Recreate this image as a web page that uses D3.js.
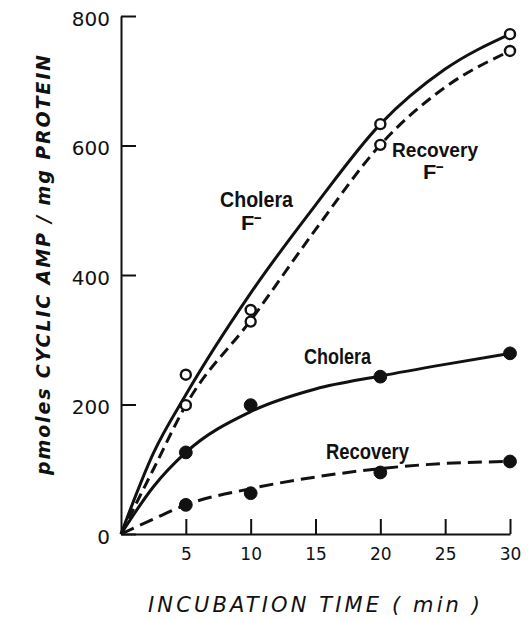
<!DOCTYPE html>
<html>
<head>
<meta charset="utf-8">
<script src="https://cdn.jsdelivr.net/npm/d3@7/dist/d3.min.js"></script>
<style>
  html, body { margin: 0; padding: 0; background: #fff; }
  svg { display: block; }
</style>
</head>
<body>
<svg id="chart" width="531" height="620"></svg>
<script>
// Incubation times at which samples were taken (min)
const sampleTimes = [5, 10, 20, 30];

// Measured cyclic AMP (pmoles / mg protein)
const choleraFluoride  = [246, 346, 633, 772];
const recoveryFluoride = [199, 328, 601, 746];
const cholera          = [126, 199, 243, 279];
const recovery         = [45, 63, 95, 112];

// Hand-fitted curves, given as knots along the time axis
const fitTimes         = [0, 2.5, 5, 10, 15, 20, 25, 30];
const choleraFluorideFit  = [0, 125, 215, 372, 508, 633, 718, 772];
const recoveryFluorideFit = [0, 100, 199, 330, 470, 601, 690, 746];
const choleraFit          = [0, 73, 126, 189, 224, 244, 262, 279];
const recoveryFit         = [0, 23, 45, 70, 88, 101, 109, 112];

// Axis ticks
const xTicks = [5, 10, 15, 20, 25, 30];
const yTicks = [0, 200, 400, 600, 800];

const xTitle = "INCUBATION TIME ( min )";
const yTitle = "pmoles CYCLIC AMP / mg PROTEIN";

const svg = d3.select("#chart");

const x = d3.scaleLinear().domain([0, 30]).range([121, 510]);
const y = d3.scaleLinear().domain([0, 800]).range([534, 16]);

const ink = "#111";

// Axes: ticks point inward, into the plotting area
const yAxis = d3.axisLeft(y)
  .tickValues(yTicks)
  .tickSizeInner(-15)
  .tickSizeOuter(0)
  .tickPadding(11)
  .tickFormat(d3.format("d"));

const xAxis = d3.axisBottom(x)
  .tickValues(xTicks)
  .tickSizeInner(-15)
  .tickSizeOuter(0)
  .tickPadding(14)
  .tickFormat(d3.format("d"));

const gy = svg.append("g")
  .attr("transform", `translate(${x(0)},0)`)
  .call(yAxis);
gy.selectAll("text")
  .attr("dy", null)
  .attr("y", 9)
  .style("font-family", "'DejaVu Sans', sans-serif")
  .style("font-size", "20px")
  .attr("fill", ink);

const gx = svg.append("g")
  .attr("transform", `translate(0,${y(0)})`)
  .call(xAxis);
gx.selectAll("text")
  .style("font-family", "'DejaVu Sans', sans-serif")
  .style("font-size", "17px")
  .attr("fill", ink);

svg.selectAll(".domain, .tick line")
  .attr("stroke", ink)
  .attr("stroke-width", 2);

// Axis titles
svg.append("text")
  .attr("x", 314)
  .attr("y", 612)
  .attr("text-anchor", "middle")
  .attr("textLength", 332)
  .attr("lengthAdjust", "spacing")
  .style("font-family", "'DejaVu Sans', sans-serif")
  .style("font-style", "italic")
  .style("font-size", "21px")
  .attr("fill", ink)
  .text(xTitle);

svg.append("text")
  .attr("transform", "translate(50,265) rotate(-90)")
  .attr("text-anchor", "middle")
  .attr("textLength", 420)
  .attr("lengthAdjust", "spacing")
  .style("font-family", "'DejaVu Sans', sans-serif")
  .style("font-style", "italic")
  .style("font-weight", "bold")
  .style("font-size", "19px")
  .attr("fill", ink)
  .text(yTitle);

// Fitted curves
const curve = d3.line()
  .x(d => x(d[0]))
  .y(d => y(d[1]))
  .curve(d3.curveMonotoneX);

const fits = [
  { values: choleraFluorideFit,  dash: null },
  { values: recoveryFluorideFit, dash: "11,6" },
  { values: choleraFit,          dash: null },
  { values: recoveryFit,         dash: "14,7" }
];

svg.append("g").selectAll("path")
  .data(fits)
  .join("path")
  .attr("d", f => curve(fitTimes.map((t, i) => [t, f.values[i]])))
  .attr("fill", "none")
  .attr("stroke", ink)
  .attr("stroke-width", 3)
  .attr("stroke-dasharray", f => f.dash);

// Measured points: open circles with fluoride, filled without
const pointSets = [
  { values: choleraFluoride,  open: true },
  { values: recoveryFluoride, open: true },
  { values: cholera,          open: false },
  { values: recovery,         open: false }
];

pointSets.forEach(set => {
  svg.append("g").selectAll("circle")
    .data(sampleTimes.map((t, i) => [t, set.values[i]]))
    .join("circle")
    .attr("cx", d => x(d[0]))
    .attr("cy", d => y(d[1]))
    .attr("r", set.open ? 5 : 6.4)
    .attr("fill", set.open ? "#fff" : ink)
    .attr("stroke", ink)
    .attr("stroke-width", set.open ? 2.4 : 1);
});

// Curve labels
const labelFont = "'Liberation Sans Narrow', 'Liberation Sans', sans-serif";
function label(tx, ty, str, len, size) {
  return svg.append("text")
    .attr("x", tx)
    .attr("y", ty)
    .attr("textLength", len)
    .attr("lengthAdjust", "spacingAndGlyphs")
    .style("font-family", labelFont)
    .style("font-weight", "bold")
    .style("font-size", size + "px")
    .attr("fill", ink)
    .text(str);
}

label(220, 207, "Cholera", 73, 22);
label(241, 230, "F\u207B", 21, 20);
label(392, 157, "Recovery", 86, 21);
label(423, 179, "F\u207B", 21, 20);
label(304, 364, "Cholera", 67, 22);
label(326, 459, "Recovery", 83, 22);
</script>
</body>
</html>
